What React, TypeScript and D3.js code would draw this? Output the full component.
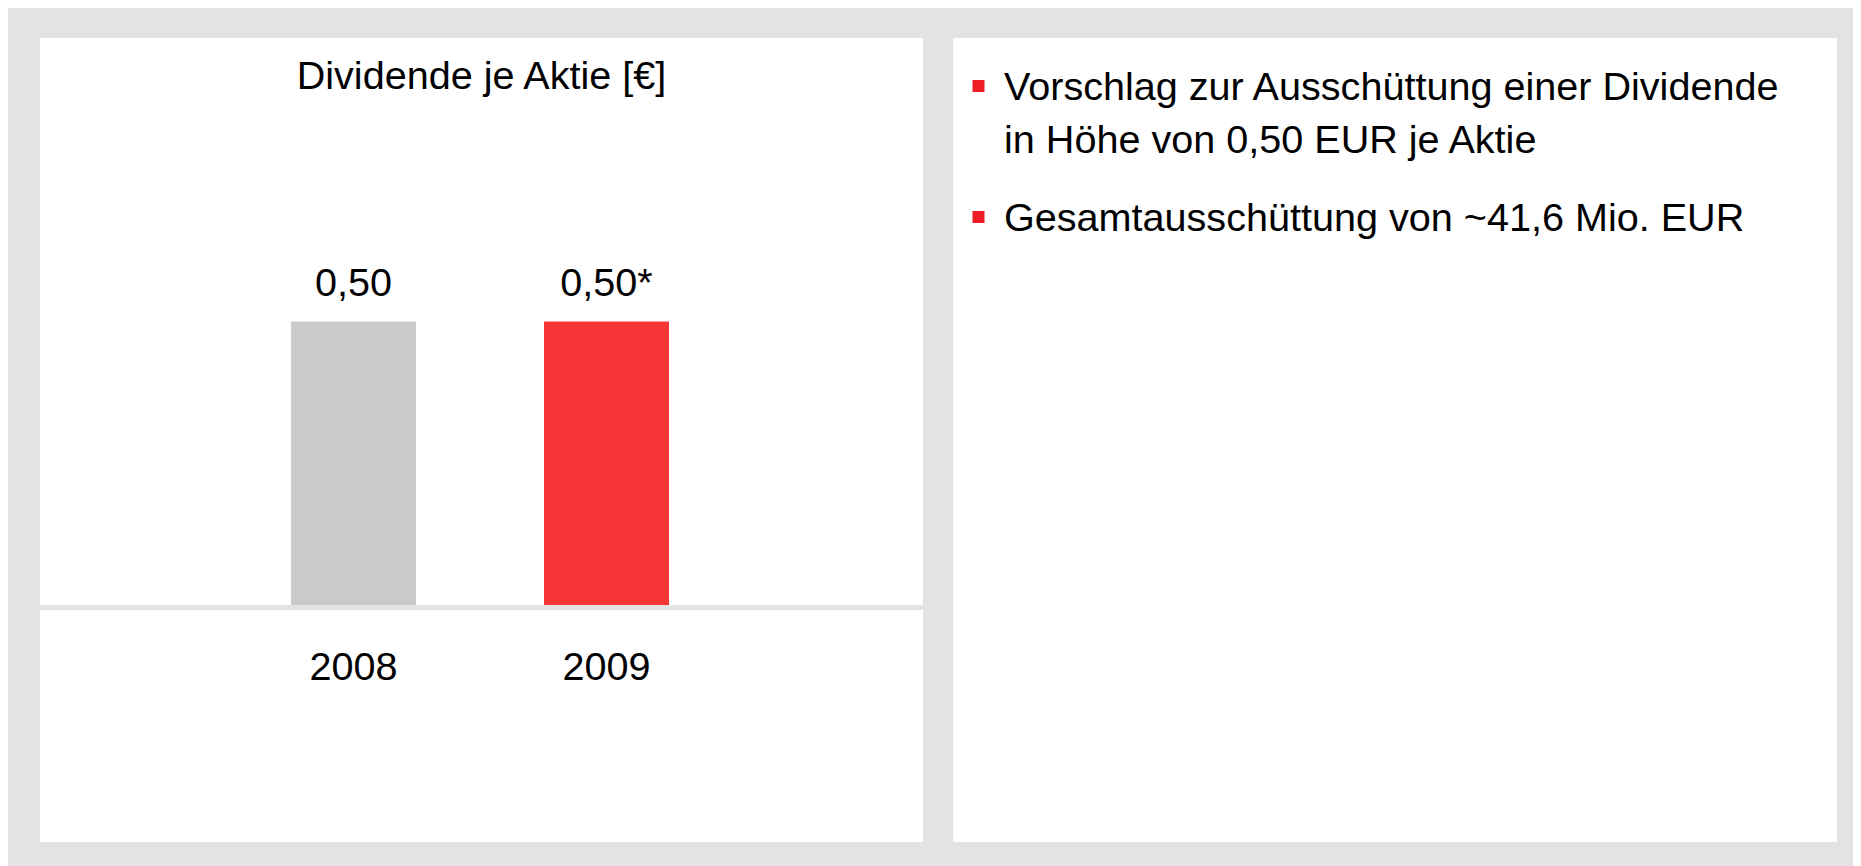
import React, { useEffect } from "react";
import * as d3 from "d3";

// ---- data ----
const years: string[] = ["2008", "2009"];
const dividends: number[] = [0.5, 0.5];
const valueLabels: string[] = ["0,50", "0,50*"];
const chartTitle = "Dividende je Aktie [€]";
const bulletItems: string[][] = [
  ["Vorschlag zur Ausschüttung einer Dividende", "in Höhe von 0,50 EUR je Aktie"],
  ["Gesamtausschüttung von ~41,6 Mio. EUR"],
];

// ---- styles ----
const BG = "#e3e3e3";
const BAR_COLORS = ["#cacaca", "#f63536"];
const BULLET = "#ee1d25";
const FONT = "'Liberation Sans', Arial, Helvetica, sans-serif";
const FS = 39.6;

export default function App() {
  useEffect(() => {
    document.documentElement.style.overflow = "hidden";
  }, []);

  const W = 1853;
  const H = 858;
  const off = 8; // body margin: page coords -> svg coords

  const x = d3
    .scaleBand<string>()
    .domain(years)
    .range([291, 669])
    .paddingInner(0.506)
    .paddingOuter(0);
  const y = d3.scaleLinear().domain([0, 0.5]).range([605, 321.5]);

  const bulletBaselines = [[100, 152.5], [231]];

  return (
    <svg width={W} height={H} style={{ display: "block" }} fontFamily={FONT}>
      <rect x={0} y={0} width={W} height={H} fill={BG} />
      <g transform={`translate(${-off},${-off})`}>
        {/* left panel */}
        <rect x={40} y={38} width={883} height={804} fill="#ffffff" />
        <text x={481.5} y={88.5} textAnchor="middle" fontSize={FS} fill="#000">
          {chartTitle}
        </text>
        {years.map((yr, i) => {
          const bx = x(yr) as number;
          const bw = x.bandwidth();
          return (
            <g key={yr}>
              <rect
                x={bx}
                y={y(dividends[i])}
                width={bw}
                height={y(0) - y(dividends[i])}
                fill={BAR_COLORS[i]}
              />
              <text
                x={bx + bw / 2}
                y={y(dividends[i]) - 26}
                textAnchor="middle"
                fontSize={FS}
                fill="#000"
              >
                {valueLabels[i]}
              </text>
              <text x={bx + bw / 2} y={680} textAnchor="middle" fontSize={FS} fill="#000">
                {yr}
              </text>
            </g>
          );
        })}
        <rect x={40} y={y(0)} width={883} height={5} fill={BG} />

        {/* right panel */}
        <rect x={953} y={38} width={884} height={804} fill="#ffffff" />
        {bulletItems.map((lines, i) => (
          <g key={i}>
            <rect
              x={972.5}
              y={bulletBaselines[i][0] - 20}
              width={12}
              height={12}
              fill={BULLET}
            />
            {lines.map((ln, j) => (
              <text key={j} x={1004} y={bulletBaselines[i][j]} fontSize={FS} fill="#000">
                {ln}
              </text>
            ))}
          </g>
        ))}
      </g>
    </svg>
  );
}
